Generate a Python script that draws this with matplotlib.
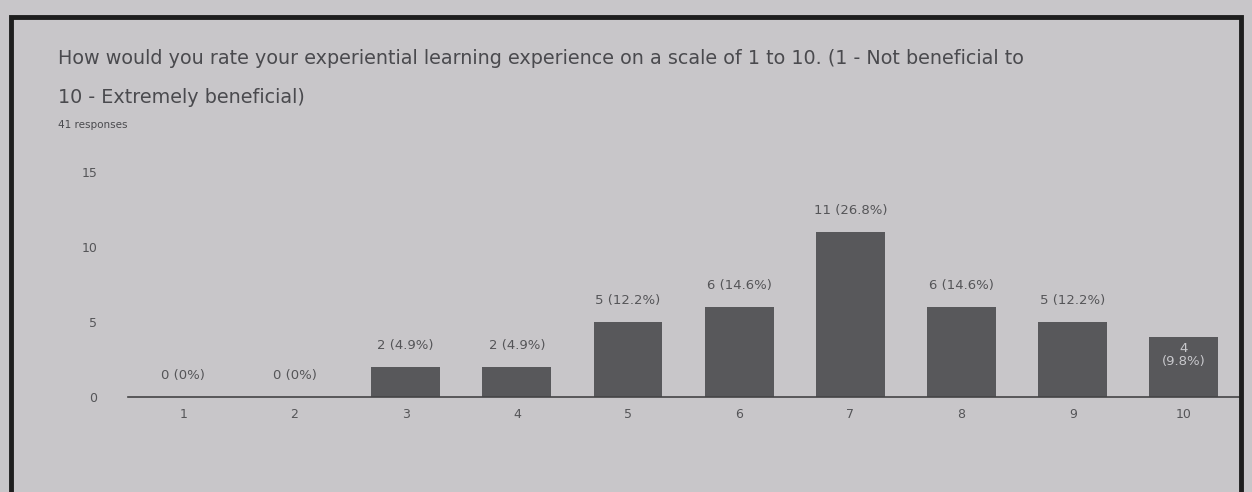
import matplotlib.pyplot as plt
from matplotlib.patches import Rectangle

# ******************* survey data *******************
ratings = ['1', '2', '3', '4', '5', '6', '7', '8', '9', '10']
counts = [0, 0, 2, 2, 5, 6, 11, 6, 5, 4]
percents = ['0%', '0%', '4.9%', '4.9%', '12.2%', '14.6%', '26.8%', '14.6%', '12.2%', '9.8%']
y_ticks = [0, 5, 10, 15]

bg = '#c8c6c9'
bar_col = '#58585b'
txt_col = '#555558'

fig = plt.figure(figsize=(12.52, 4.92), dpi=100)
fig.patch.set_facecolor(bg)

# photo frame around the card
fig.add_artist(Rectangle((0.009, -0.02), 0.982, 0.985, transform=fig.transFigure,
                         fill=False, edgecolor='#1e1e1e', linewidth=3.5))

fig.text(0.046, 0.87, "How would you rate your experiential learning experience on a scale of 1 to 10. (1 - Not beneficial to",
         fontsize=13.8, color='#4a4a4e', family='DejaVu Sans')
fig.text(0.046, 0.79, "10 - Extremely beneficial)", fontsize=13.8, color='#4a4a4e', family='DejaVu Sans')
fig.text(0.046, 0.74, "41 responses", fontsize=7.5, color='#4a4a4e')

ax = fig.add_axes([0.102, 0.193, 0.888, 0.457])
ax.set_facecolor(bg)
positions = list(range(1, len(ratings) + 1))
ax.bar(positions, counts, width=0.62, color=bar_col, zorder=2)

for pos, c, p in zip(positions, counts, percents):
    if pos == 10:
        ax.text(pos, c - 0.3, f"{c}\n({p})", ha='center', va='top', fontsize=9.5,
                color='#c8c8cc', linespacing=1.0, zorder=3)
    else:
        ax.text(pos, c + 1.0, f"{c} ({p})", ha='center', va='bottom', fontsize=9.5,
                color=txt_col, zorder=3)

ax.set_xlim(0.5, 10.5)
ax.set_ylim(0, 15)
ax.set_xticks(positions)
ax.set_xticklabels(ratings)
ax.set_yticks(y_ticks)
ax.tick_params(axis='both', length=0, labelsize=9, labelcolor=txt_col)
ax.tick_params(axis='x', pad=8)
ax.tick_params(axis='y', pad=22)
for side in ['top', 'right', 'left']:
    ax.spines[side].set_visible(False)
ax.spines['bottom'].set_color('#444446')
ax.spines['bottom'].set_linewidth(1.2)

plt.savefig('out.png', dpi=100, facecolor=bg)
